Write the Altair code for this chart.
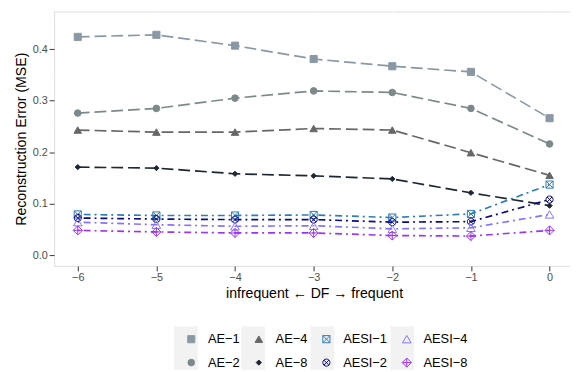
import altair as alt
import pandas as pd

# ---- data ----
x_vals = [-6, -5, -4, -3, -2, -1, 0]
series_names = ["AE−1", "AE−2", "AE−4", "AE−8", "AESI−1", "AESI−2", "AESI−4", "AESI−8"]
ae1 = [0.424, 0.428, 0.407, 0.381, 0.367, 0.356, 0.266]
ae2 = [0.276, 0.285, 0.305, 0.319, 0.316, 0.285, 0.216]
ae4 = [0.243, 0.239, 0.239, 0.246, 0.243, 0.199, 0.155]
ae8 = [0.171, 0.169, 0.158, 0.154, 0.148, 0.121, 0.096]
aesi1 = [0.079, 0.077, 0.077, 0.078, 0.073, 0.080, 0.137]
aesi2 = [0.072, 0.070, 0.069, 0.069, 0.064, 0.065, 0.108]
aesi4 = [0.064, 0.059, 0.056, 0.057, 0.051, 0.053, 0.079]
aesi8 = [0.048, 0.045, 0.043, 0.043, 0.038, 0.037, 0.048]
values = [ae1, ae2, ae4, ae8, aesi1, aesi2, aesi4, aesi8]

x_ticks = [-6, -5.5, -5, -4.5, -4, -3.5, -3, -2.5, -2, -1.5, -1, -0.5, 0]
y_ticks = [0.0, 0.05, 0.1, 0.15, 0.2, 0.25, 0.3, 0.35, 0.4, 0.45]

# styles per series
colors = {"AE−1": "#8a98a5", "AE−2": "#7c898a", "AE−4": "#676767", "AE−8": "#1c2733",
          "AESI−1": "#2c7db3", "AESI−2": "#0a0a86", "AESI−4": "#8573ff", "AESI−8": "#9b35f0"}
SQ_X = "M-1,-1L1,-1L1,1L-1,1Z M-1,-1L1,1 M-1,1L1,-1"
CI_X = "M-1,0A1,1,0,1,1,1,0A1,1,0,1,1,-1,0Z M-0.707,-0.707L0.707,0.707 M-0.707,0.707L0.707,-0.707"
DI_P = "M0,-1L1,0L0,1L-1,0Z M0,-1L0,1 M-1,0L1,0"
KEY_BOX = "M-1.09,-1L1.09,-1L1.09,1L-1.09,1Z"
shapes = {"AE−1": "square", "AE−2": "circle", "AE−4": "triangle-up", "AE−8": "diamond",
          "AESI−1": SQ_X, "AESI−2": CI_X, "AESI−4": "triangle-up", "AESI−8": DI_P}
sizes = {"AE−1": 52, "AE−2": 45, "AE−4": 58, "AE−8": 28,
         "AESI−1": 52, "AESI−2": 52, "AESI−4": 75, "AESI−8": 85}
fills = {k: (colors[k] if k.startswith("AE−") else "transparent") for k in series_names}
LONG = [12, 5]
DOTDASH = [2, 4, 7, 4]
dashes = {k: (LONG if k.startswith("AE−") else DOTDASH) for k in series_names}

# legend order: filled column by column, 2 rows x 4 columns
order = series_names
bg_ae = [s + "\u200b" for s in order[:4]]
bg_aesi = [s + "\u200b" for s in order[4:]]

rows = []
for name, vals in zip(series_names, values):
    for xv, yv in zip(x_vals, vals):
        rows.append({"x": xv, "y": yv, "series": name})
df = pd.DataFrame(rows)

FONT = "Liberation Sans"

xscale = alt.Scale(domain=[-6.3, 0.26], nice=False, zero=False)
yscale = alt.Scale(domain=[-0.0211, 0.4734], nice=False, zero=False)

x_minor = "datum.value % 1 != 0"
y_minor = "abs(datum.value*10 - round(datum.value*10)) > 0.01"

x_axis = alt.Axis(
    values=x_ticks,
    labelExpr="datum.value % 1 == 0 ? format(datum.value, 'd') : ''",
    title="infrequent ← DF → frequent",
    grid=True, domain=False,
    gridColor="white",
    gridWidth={"condition": {"test": x_minor, "value": 0.6}, "value": 1.2},
    tickColor="#333333",
    tickOpacity={"condition": {"test": x_minor, "value": 0}, "value": 1},
    tickSize=5, labelPadding=1,
    labelFont=FONT, labelFontSize=11, labelColor="#4d4d4d",
    titleFont=FONT, titleFontSize=14.3, titleFontWeight="normal", titleColor="black",
    titleX=263.5, titleY=32.5, titleBaseline="alphabetic", titleAlign="center",
)
y_axis = alt.Axis(
    values=y_ticks,
    labelExpr="abs(datum.value*10 - round(datum.value*10)) < 0.01 ? format(datum.value, '.1f') : ''",
    title="Reconstruction Error (MSE)",
    grid=True, domain=False,
    gridColor="white",
    gridWidth={"condition": {"test": y_minor, "value": 0.6}, "value": 1.2},
    tickColor="#333333",
    tickOpacity={"condition": {"test": y_minor, "value": 0}, "value": 1},
    tickSize=5, labelPadding=2,
    labelFont=FONT, labelFontSize=11, labelColor="#4d4d4d",
    titleFont=FONT, titleFontSize=14.3, titleFontWeight="normal", titleColor="black",
    titleX=-29.5, titleY=129, titleBaseline="alphabetic", titleAlign="center", titleAngle=-90,
)

main_leg = alt.Legend(
    orient="none", legendX=132.5, legendY=325.5, columns=4, title=None,
    labelFont=FONT, labelFontSize=13, labelColor="black",
    labelOffset=10.5, columnPadding=12.5, rowPadding=9, padding=0,
    symbolStrokeWidth=1, fillColor="transparent", strokeColor="transparent",
)


def key_legend(x, col_pad):
    return alt.Legend(
        orient="none", legendX=x, legendY=319.3, columns=2, title=None,
        labelExpr="''", labelFont=FONT, labelFontSize=13, labelOffset=0,
        columnPadding=col_pad, rowPadding=0, padding=0,
        symbolType=KEY_BOX, symbolSize=484, symbolStrokeWidth=0, symbolOpacity=1,
        symbolFillColor="#f2f2f2", fillColor="transparent", strokeColor="transparent",
    )


bg1 = alt.Chart(df).transform_filter("false").mark_square(filled=True, opacity=1).encode(
    color=alt.Color("bgkey:N", scale=alt.Scale(domain=bg_ae, range=["#f2f2f2"] * 4),
                    legend=key_legend(122.7, 44))
)
bg2 = alt.Chart(df).transform_filter("false").mark_square(filled=True, opacity=1, color="#f2f2f2").encode(
    opacity=alt.Opacity("bgkey2:N", scale=alt.Scale(type="ordinal", domain=bg_aesi, range=[1] * 4),
                        legend=key_legend(261.0, 57))
)

lines = alt.Chart(df).mark_line(strokeWidth=1.7).encode(
    x=alt.X("x:Q", scale=xscale, axis=x_axis),
    y=alt.Y("y:Q", scale=yscale, axis=y_axis),
    stroke=alt.Stroke("series:N", scale=alt.Scale(domain=order, range=[colors[k] for k in order]), legend=None),
    strokeDash=alt.StrokeDash("series:N", scale=alt.Scale(domain=order, range=[dashes[k] for k in order]),
                              legend=None),
    order=alt.Order("x:Q"),
)

points = alt.Chart(df).mark_point(filled=False, strokeWidth=1, opacity=1).encode(
    x=alt.X("x:Q", scale=xscale, axis=x_axis),
    y=alt.Y("y:Q", scale=yscale, axis=y_axis),
    stroke=alt.Stroke("series:N", scale=alt.Scale(domain=order, range=[colors[k] for k in order]), legend=main_leg),
    fill=alt.Fill("series:N", scale=alt.Scale(domain=order, range=[fills[k] for k in order]), legend=main_leg),
    shape=alt.Shape("series:N", scale=alt.Scale(domain=order, range=[shapes[k] for k in order]), legend=main_leg),
    size=alt.Size("series:N", scale=alt.Scale(type="ordinal", domain=order, range=[sizes[k] for k in order]),
                  legend=main_leg),
)

chart = alt.layer(bg1, bg2, lines, points).resolve_legend(
    stroke="independent", fill="independent", shape="independent", size="independent"
).properties(
    width=523, height=258,
    autosize="none",
    padding={"left": 46.8, "top": 1, "right": 0, "bottom": 105},
).configure_view(fill="#ebebeb", stroke=None).configure(font=FONT)

chart.save("out.html", embed_options={"renderer": "svg", "actions": False})
